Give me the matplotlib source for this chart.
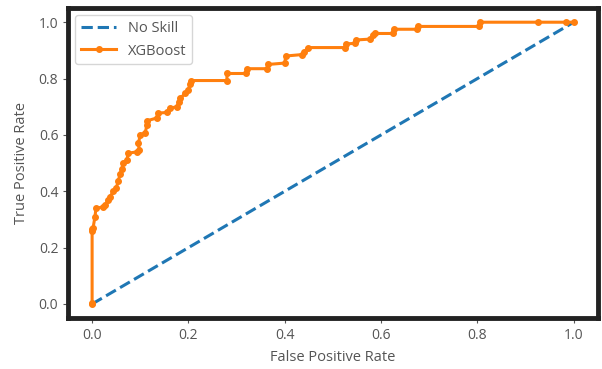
import numpy as np
import matplotlib.pyplot as plt

# Look of the chart
plt.rcParams['font.family'] = ['Open Sans', 'DejaVu Sans']
plt.rcParams['text.color'] = '#555555'
plt.rcParams['axes.labelcolor'] = '#555555'
plt.rcParams['xtick.color'] = '#555555'
plt.rcParams['ytick.color'] = '#555555'

# No skill line
ns_fpr = [0.0, 1.0]
ns_tpr = [0.0, 1.0]

# XGBoost ROC curve
xgb_fpr = [0.0, 0.0, 0.0, 0.0, 0.002, 0.006, 0.008, 0.022, 0.027, 0.033, 0.037,
           0.044, 0.050, 0.054, 0.058, 0.062, 0.064, 0.072, 0.075, 0.093, 0.098,
           0.096, 0.100, 0.110, 0.114, 0.114, 0.134, 0.137, 0.155, 0.162, 0.176,
           0.180, 0.183, 0.193, 0.200, 0.203, 0.205, 0.280, 0.280, 0.320, 0.322,
           0.363, 0.365, 0.400, 0.402, 0.435, 0.441, 0.448, 0.525, 0.527, 0.546,
           0.548, 0.577, 0.583, 0.587, 0.624, 0.626, 0.674, 0.676, 0.803, 0.805,
           0.925, 0.985, 1.0]
xgb_tpr = [0.0, 0.005, 0.26, 0.265, 0.27, 0.31, 0.34, 0.344, 0.35, 0.37, 0.38,
           0.40, 0.41, 0.435, 0.46, 0.48, 0.50, 0.51, 0.535, 0.54, 0.547,
           0.57, 0.60, 0.607, 0.635, 0.65, 0.66, 0.677, 0.68, 0.695, 0.70,
           0.716, 0.73, 0.747, 0.758, 0.782, 0.793, 0.793, 0.818, 0.818, 0.835,
           0.835, 0.85, 0.855, 0.88, 0.885, 0.895, 0.91, 0.91, 0.923, 0.925,
           0.937, 0.94, 0.954, 0.96, 0.96, 0.975, 0.975, 0.985, 0.985, 1.0,
           1.0, 1.0, 1.0]

fig, ax = plt.subplots(figsize=(6.02, 3.69), dpi=100)
fig.subplots_adjust(left=0.113, right=0.993, top=0.978, bottom=0.138)

# Plot both curves
ax.plot(ns_fpr, ns_tpr, linestyle='--', color='#1f77b4', linewidth=2.2, label='No Skill')
ax.plot(xgb_fpr, xgb_tpr, marker='.', markersize=8, color='#ff7f0e', linewidth=2.2,
        label='XGBoost')

ax.set_xlabel('False Positive Rate', fontsize=10.5, labelpad=5)
ax.set_ylabel('True Positive Rate', fontsize=10.5, labelpad=7)
ax.set_xticks([0.0, 0.2, 0.4, 0.6, 0.8, 1.0])
ax.set_yticks([0.0, 0.2, 0.4, 0.6, 0.8, 1.0])
ax.tick_params(labelsize=10)

# Thick dark frame around the plot area
for spine in ax.spines.values():
    spine.set_linewidth(3.5)
    spine.set_color('#222222')

ax.legend(loc='upper left', fontsize=10.5, handlelength=2.4)

plt.savefig('out.png', dpi=100)
